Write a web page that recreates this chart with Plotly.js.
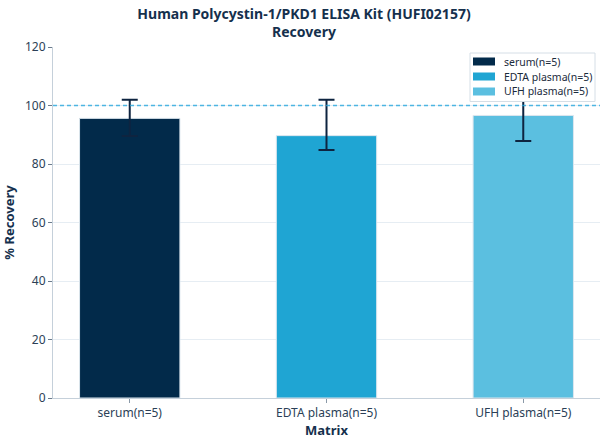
<!DOCTYPE html>
<html>
<head>
<meta charset="utf-8">
<script src="https://cdn.plot.ly/plotly-3.0.1.min.js"></script>
<style>html,body{margin:0;padding:0;background:#fff}#chart{width:608px;height:444px}</style>
</head>
<body>
<div id="chart"></div>
<script>
const categories = ["serum(n=5)", "EDTA plasma(n=5)", "UFH plasma(n=5)"];
const recovery = [95.6, 89.7, 96.6];
const errorPlus = [6.4, 12.3, 7.4];
const errorMinus = [6.0, 4.9, 8.7];
const colors = ["#022a4a", "#1fa5d3", "#5bbfe0"];
const yTicks = [0, 20, 40, 60, 80, 100, 120];
const referenceLine = 100;

const W = 608, H = 444;
const M = {l: 53, r: 8, t: 47, b: 46};
const pw = W - M.l - M.r, ph = H - M.t - M.b;
const px = x => (x - M.l) / pw;
const py = y => (H - M.b - y) / ph;

const traces = categories.map((c, i) => ({
  type: "bar",
  name: c,
  x: [c],
  y: [recovery[i]],
  width: 0.51,
  marker: {color: colors[i], line: {color: "#dce6ee", width: 1}},
  error_y: {
    type: "data", symmetric: false,
    array: [errorPlus[i]], arrayminus: [errorMinus[i]],
    color: "#0e2440", thickness: 2, width: 8
  },
  hoverinfo: "skip"
}));

// custom legend (box, swatches, labels)
const shapes = [{
  type: "line", xref: "paper", yref: "y",
  x0: 0, x1: 1, y0: referenceLine, y1: referenceLine,
  line: {color: "#27a8de", width: 1.3, dash: "4px,3px"},
  opacity: 0.8,
  layer: "above"
}, {
  type: "rect", xref: "paper", yref: "paper",
  x0: px(470), x1: px(595), y0: py(53), y1: py(101.5),
  fillcolor: "rgba(255,255,255,1)", line: {color: "#d5dee6", width: 1},
  layer: "above"
}];
const annotations = [];
const rowY = [61.5, 76.5, 91.5];
categories.forEach((c, i) => {
  shapes.push({
    type: "rect", xref: "paper", yref: "paper",
    x0: px(473), x1: px(495), y0: py(rowY[i] + 4), y1: py(rowY[i] - 4),
    fillcolor: colors[i], line: {width: 0}, layer: "above"
  });
  annotations.push({
    xref: "paper", yref: "paper", x: px(502), y: py(rowY[i]),
    xanchor: "left", yanchor: "middle", showarrow: false,
    text: c, font: {size: 10.5, color: "#1a2b3c"}
  });
});

const layout = {
  width: W, height: H,
  margin: M,
  paper_bgcolor: "#fff", plot_bgcolor: "#fff",
  font: {family: "Noto Sans, Open Sans, sans-serif", color: "#2b3f57", size: 12},
  title: {
    text: "<b>Human Polycystin-1/PKD1 ELISA Kit (HUFI02157)<br>Recovery</b>",
    x: 0.5, xanchor: "center", y: 0.958, yanchor: "top",
    font: {size: 14, color: "#15304d"}
  },
  barmode: "overlay",
  bargap: 0,
  showlegend: false,
  xaxis: {
    type: "category",
    categoryorder: "array", categoryarray: categories,
    range: [-0.39, 2.39],
    showgrid: false,
    showline: true, linecolor: "#c5d0da", linewidth: 1,
    ticks: "outside", ticklen: 4, tickcolor: "#8a99a8",
    tickfont: {size: 12, color: "#2b3f57"},
    title: {text: "<b>Matrix</b>", font: {size: 13, color: "#15304d"}, standoff: 3},
    zeroline: false
  },
  yaxis: {
    range: [0, 120],
    tickvals: yTicks,
    showgrid: true, gridcolor: "#e6edf3", gridwidth: 1,
    showline: true, linecolor: "#c5d0da", linewidth: 1,
    ticks: "outside", ticklen: 4, tickcolor: "#6b7b8c",
    tickfont: {size: 12, color: "#2b3f57"},
    title: {text: "<b>% Recovery</b>", font: {size: 13, color: "#15304d"}, standoff: 8},
    zeroline: false
  },
  shapes: shapes,
  annotations: annotations
};

Plotly.newPlot("chart", traces, layout, {displayModeBar: false, staticPlot: true});
</script>
</body>
</html>
